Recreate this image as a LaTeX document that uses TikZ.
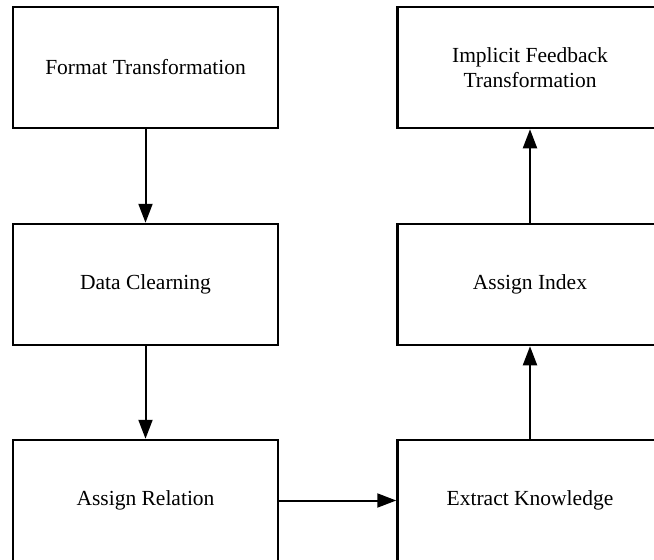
\documentclass[tikz,border=0pt]{standalone}
\usepackage{fontspec}
\setmainfont{Liberation Serif}
\usetikzlibrary{arrows.meta}
\begin{document}
\begin{tikzpicture}[x=1pt,y=-1pt,
  stepbox/.style={draw=black, line width=2.5pt, fill=white, minimum width=265pt, minimum height=121pt,
    inner sep=0pt, align=center, font=\fontsize{21.5}{24.5}\selectfont, text=black},
  conn/.style={line width=2pt, -{Triangle[length=19pt,width=14pt]}}]
\useasboundingbox (0,0) rectangle (654,560);
\clip (0,0) rectangle (654,560);
\fill[white] (0,0) rectangle (654,560);
\node[stepbox] (ft) at (145.5,67.5) {Format Transformation};
\node[stepbox] (dc) at (145.5,284.5) {Data Clearning};
\node[stepbox] (ar) at (145.5,500.5) {Assign Relation};
\node[stepbox] (ek) at (530,500.5) {Extract Knowledge};
\node[stepbox] (ai) at (530,284.5) {Assign Index};
\node[stepbox] (if) at (530,67.5) {Implicit Feedback\\Transformation};
\draw[conn] (ft) -- (dc);
\draw[conn] (dc) -- (ar);
\draw[conn] (ar) -- (ek);
\draw[conn] (ek) -- (ai);
\draw[conn] (ai) -- (if);
\end{tikzpicture}
\end{document}
